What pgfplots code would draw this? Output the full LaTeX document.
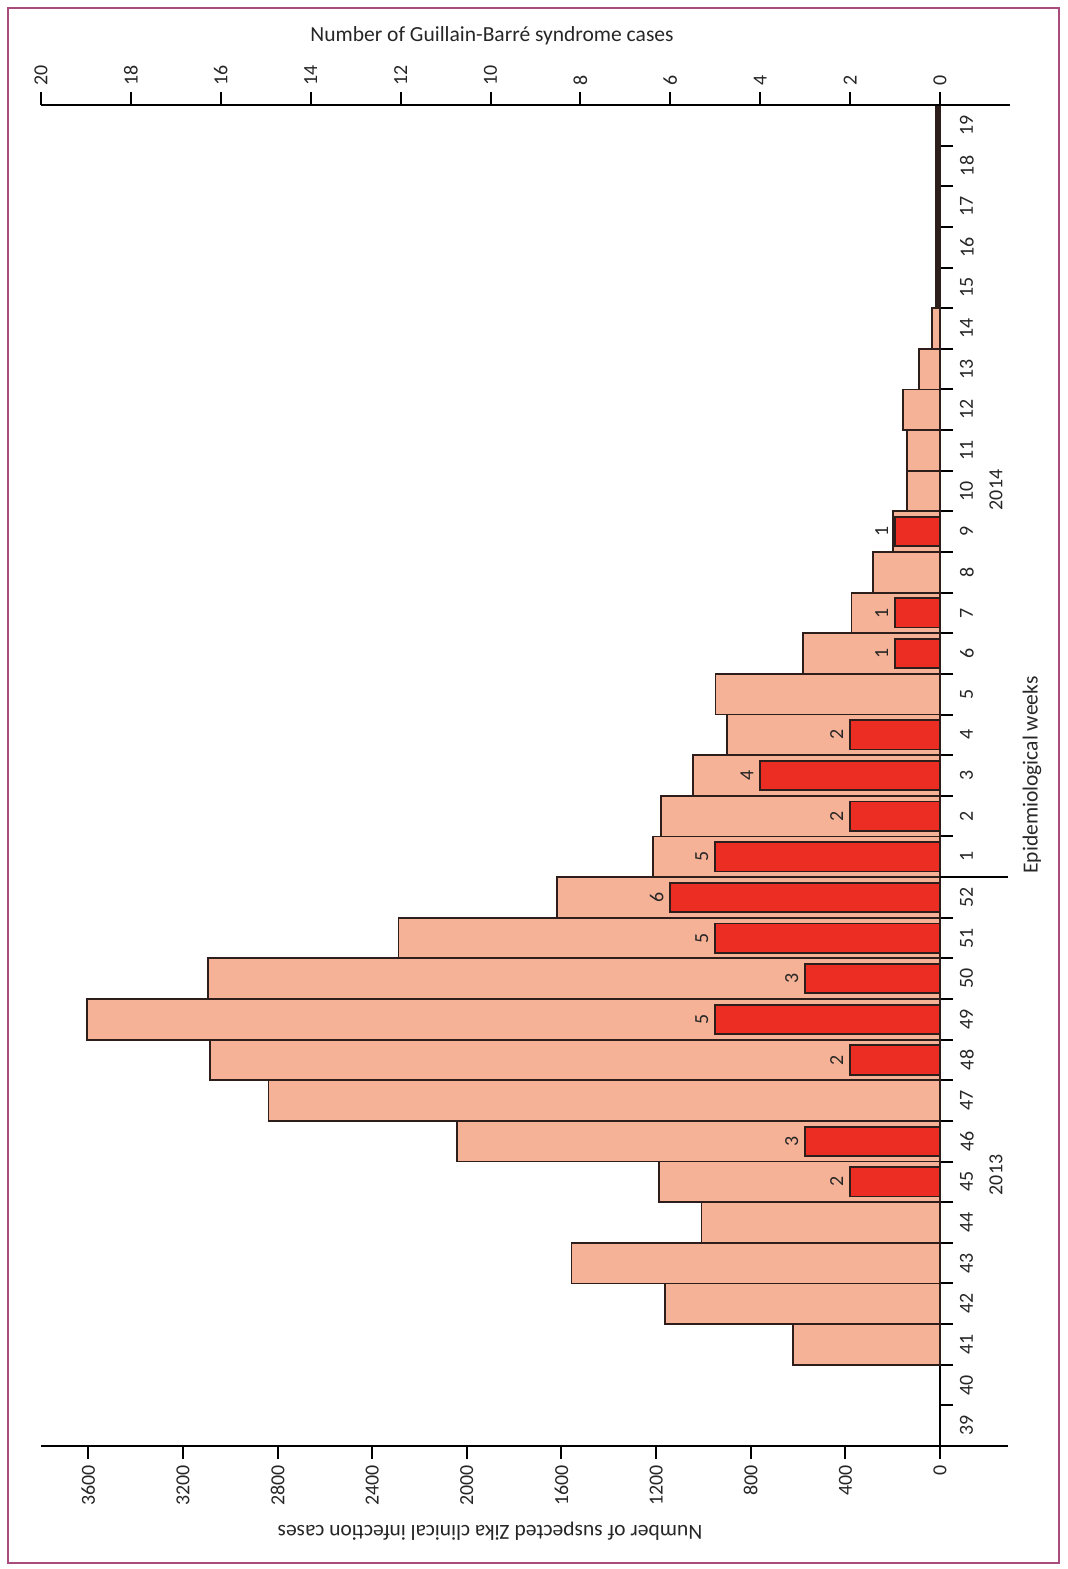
\documentclass[border=0pt]{standalone}
\usepackage{pgfplots}
\pgfplotsset{compat=1.18}
\usepackage{fontspec}
\setmainfont{Carlito}
\definecolor{pinkc}{RGB}{246,178,150}
\definecolor{redc}{RGB}{235,45,35}
\definecolor{barline}{RGB}{45,30,28}
\definecolor{framec}{RGB}{170,75,125}
\pgfplotstableread{
idx zika
2 621
3 1161
4 1558
5 1008
6 1188
7 2043
8 2838
9 3085
10 3604
11 3093
12 2289
13 1620
14 1213
15 1178
16 1044
17 900
18 949
19 578
20 374
21 282
22 198
23 138
24 138
25 155
26 88
27 35
}\zikatable
\pgfplotstableread{
idx zika
28 16
29 16
30 16
31 16
32 16
}\zikatail
\pgfplotstableread{
idx gbs
6 2
7 3
9 2
10 5
11 3
12 5
13 6
14 5
15 2
16 4
17 2
19 1
20 1
22 1
}\gbstable
\begin{document}
\begin{tikzpicture}
\pgfplotsset{
  common/.style={
    scale only axis, width=449.5bp, height=670.5bp,
    x dir=reverse, ymin=-0.5, ymax=32.5,
    tick align=outside, major tick length=6.25bp,
    axis line style={line width=1.1bp, black},
    tick style={line width=1bp, black},
    /pgf/number format/1000 sep={},
    /pgf/number format/assume math mode=true,
    tick label style={font=\fontsize{10}{12}\selectfont, text=black!85},
    clip=false,
  }
}
\begin{axis}[common,
  xmin=0, xmax=3800,
  axis x line*=bottom, axis y line*=right,
  xtick={0,400,...,3600},
  xticklabel style={rotate=90, anchor=east},
  ytick={0.5,1.5,...,31.5}, yticklabels={},
  extra y ticks={0,1,...,32},
  extra y tick labels={39,40,41,42,43,44,45,46,47,48,49,50,51,52,1,2,3,4,5,6,7,8,9,10,11,12,13,14,15,16,17,18,19},
  extra y tick style={major tick length=0pt, tick label style={xshift=6.5bp, rotate=90, anchor=north}},
]
\addplot[xbar, bar width=1, bar shift=0, fill=pinkc, draw=barline, line width=0.9bp] table[x=zika, y=idx] {\zikatable};
\addplot[xbar, bar width=1, bar shift=0, fill=barline, draw=barline, line width=0.9bp] table[x=zika, y=idx] {\zikatail};
\end{axis}
\begin{axis}[common,
  xmin=0, xmax=20,
  axis x line*=top, hide y axis,
  xtick={0,2,...,20},
  xticklabel style={rotate=90, anchor=west},
]
\addplot[xbar, bar width=0.72, bar shift=0, fill=redc, draw=barline, line width=0.9bp,
  point meta=x, nodes near coords, nodes near coords align={south},
  every node near coord/.append style={rotate=90, anchor=south, inner sep=3bp, font=\fontsize{10}{12}\selectfont, text=black!85}]
  table[x=gbs, y=idx] {\gbstable};
\end{axis}
\begin{scope}[xshift=-20.5bp, yshift=723bp, x=0.5bp, y=-0.5bp]
\path (0,0) rectangle (1067,1569);
\draw[framec, line width=1.2bp] (8,8) rectangle (1059,1563);
\draw[line width=1.1bp] (940,1446) -- (1008,1446);
\draw[line width=1.1bp] (940,105) -- (1010,105);
\draw[line width=1bp] (940,877) -- (1008,877);
\node[font=\fontsize{10.8}{13}\selectfont, text=black!85] at (492,36) {Number of Guillain-Barré syndrome cases};
\node[rotate=180, font=\fontsize{10.8}{13}\selectfont, text=black!85] at (490,1531) {Number of suspected Zika clinical infection cases};
\node[rotate=90, font=\fontsize{10.8}{13}\selectfont, text=black!85] at (1032,775) {Epidemiological weeks};
\node[rotate=90, font=\fontsize{10}{12}\selectfont, text=black!85] at (996,1175) {2013};
\node[rotate=90, font=\fontsize{10}{12}\selectfont, text=black!85] at (996,490) {2014};
\end{scope}
\end{tikzpicture}
\end{document}
